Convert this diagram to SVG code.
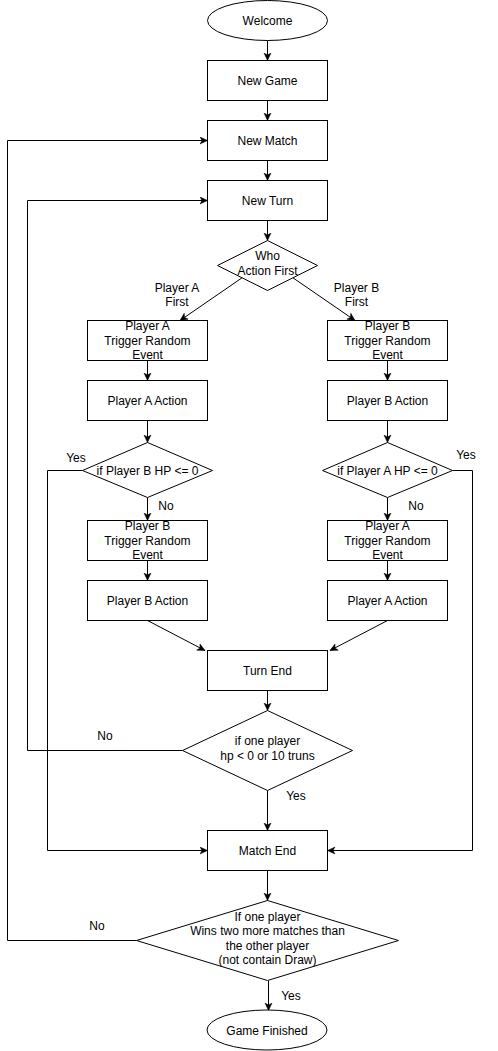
<svg xmlns="http://www.w3.org/2000/svg" width="498" height="1051" viewBox="0 0 498 1051">
<style>
.s{fill:#fff;stroke:#000;stroke-width:1}
.e{fill:none;stroke:#000;stroke-width:1}
text{font-family:"Liberation Sans",Arial,sans-serif;font-size:12px;fill:#000;text-anchor:middle}
</style>
<defs>
<marker id="a" markerWidth="10" markerHeight="10" refX="8" refY="4" orient="auto" markerUnits="userSpaceOnUse">
<path d="M0.5,0.5 L8,4 L0.5,7.5 L2.5,4 Z" fill="#000" stroke="#000" stroke-width="0.5"/>
</marker>
</defs>
<rect width="498" height="1051" fill="#fff"/>
<g id="connectors">
<path class="e" marker-end="url(#a)" d="M267.5,40.5 L267.5,60.5"/>
<path class="e" marker-end="url(#a)" d="M267.5,100.5 L267.5,120.5"/>
<path class="e" marker-end="url(#a)" d="M267.5,160.5 L267.5,180.5"/>
<path class="e" marker-end="url(#a)" d="M267.5,220.5 L267.5,240.5"/>
<path class="e" marker-end="url(#a)" d="M242.5,277.5 L180,320.5"/>
<path class="e" marker-end="url(#a)" d="M292.5,277.5 L355,320.5"/>
<path class="e" marker-end="url(#a)" d="M147.5,360.5 L147.5,380.5"/>
<path class="e" marker-end="url(#a)" d="M387.5,360.5 L387.5,380.5"/>
<path class="e" marker-end="url(#a)" d="M147.5,420.5 L147.5,442.5"/>
<path class="e" marker-end="url(#a)" d="M387.5,420.5 L387.5,442.5"/>
<path class="e" marker-end="url(#a)" d="M147.5,497.5 L147.5,520.5"/>
<path class="e" marker-end="url(#a)" d="M387.5,497.5 L387.5,520.5"/>
<path class="e" marker-end="url(#a)" d="M147.5,560.5 L147.5,580.5"/>
<path class="e" marker-end="url(#a)" d="M387.5,560.5 L387.5,580.5"/>
<path class="e" marker-end="url(#a)" d="M147.5,620.5 L205,650.5"/>
<path class="e" marker-end="url(#a)" d="M387.5,620.5 L330,650.5"/>
<path class="e" marker-end="url(#a)" d="M267.5,690.5 L267.5,710.5"/>
<path class="e" marker-end="url(#a)" d="M182.5,750.5 L27.5,750.5 L27.5,200.5 L207.5,200.5"/>
<path class="e" marker-end="url(#a)" d="M267.5,790.5 L267.5,830.5"/>
<path class="e" marker-end="url(#a)" d="M82.5,470.5 L47.5,470.5 L47.5,850.5 L207.5,850.5"/>
<path class="e" marker-end="url(#a)" d="M452.5,470.5 L472.5,470.5 L472.5,850.5 L327.5,850.5"/>
<path class="e" marker-end="url(#a)" d="M267.5,870.5 L267.5,900.5"/>
<path class="e" marker-end="url(#a)" d="M136.5,940.5 L7.5,940.5 L7.5,140.5 L207.5,140.5"/>
<path class="e" marker-end="url(#a)" d="M268.5,980.5 L268.5,1010.5"/>
<text x="177" y="292">Player A</text>
<text x="177" y="306">First</text>
<text x="356.5" y="292">Player B</text>
<text x="356.5" y="306">First</text>
<text x="76" y="462">Yes</text>
<text x="466" y="459">Yes</text>
<text x="166" y="510">No</text>
<text x="416" y="510">No</text>
<text x="105" y="740">No</text>
<text x="296" y="800">Yes</text>
<text x="97" y="930">No</text>
<text x="291" y="1000">Yes</text>
</g>
<g id="welcome"><ellipse class="s" cx="267.5" cy="20.5" rx="60" ry="20"/><text x="267.5" y="25">Welcome</text></g>
<g id="new-game"><rect class="s" x="207.5" y="60.5" width="120" height="40"/><text x="267.5" y="85">New Game</text></g>
<g id="new-match"><rect class="s" x="207.5" y="120.5" width="120" height="40"/><text x="267.5" y="145">New Match</text></g>
<g id="new-turn"><rect class="s" x="207.5" y="180.5" width="120" height="40"/><text x="267.5" y="205">New Turn</text></g>
<g id="who-first"><path class="s" d="M267.5,240.5 L317.5,265.5 L267.5,290.5 L217.5,265.5 Z"/><text x="267.5" y="260">Who</text><text x="267.5" y="275">Action First</text></g>
<g id="a-trigger1"><rect class="s" x="87.5" y="320.5" width="120" height="40"/><text x="147.5" y="330">Player A</text><text x="147.5" y="344.5">Trigger Random</text><text x="147.5" y="359">Event</text></g>
<g id="b-trigger1"><rect class="s" x="327.5" y="320.5" width="120" height="40"/><text x="387.5" y="330">Player B</text><text x="387.5" y="344.5">Trigger Random</text><text x="387.5" y="359">Event</text></g>
<g id="a-action1"><rect class="s" x="87.5" y="380.5" width="120" height="40"/><text x="147.5" y="405">Player A Action</text></g>
<g id="b-action1"><rect class="s" x="327.5" y="380.5" width="120" height="40"/><text x="387.5" y="405">Player B Action</text></g>
<g id="check-b"><path class="s" d="M147.5,442.5 L212.5,470.5 L147.5,497.5 L82.5,470.5 Z"/><text x="147.5" y="475">if Player B HP &lt;= 0</text></g>
<g id="check-a"><path class="s" d="M387.5,442.5 L452.5,470.5 L387.5,497.5 L322.5,470.5 Z"/><text x="387.5" y="475">if Player A HP &lt;= 0</text></g>
<g id="b-trigger2"><rect class="s" x="87.5" y="520.5" width="120" height="40"/><text x="147.5" y="530">Player B</text><text x="147.5" y="544.5">Trigger Random</text><text x="147.5" y="559">Event</text></g>
<g id="a-trigger2"><rect class="s" x="327.5" y="520.5" width="120" height="40"/><text x="387.5" y="530">Player A</text><text x="387.5" y="544.5">Trigger Random</text><text x="387.5" y="559">Event</text></g>
<g id="b-action2"><rect class="s" x="87.5" y="580.5" width="120" height="40"/><text x="147.5" y="605">Player B Action</text></g>
<g id="a-action2"><rect class="s" x="327.5" y="580.5" width="120" height="40"/><text x="387.5" y="605">Player A Action</text></g>
<g id="turn-end"><rect class="s" x="207.5" y="650.5" width="120" height="40"/><text x="267.5" y="675">Turn End</text></g>
<g id="check-turn"><path class="s" d="M267.5,710.5 L352.5,750.5 L267.5,790.5 L182.5,750.5 Z"/><text x="267.5" y="745">if one player</text><text x="267.5" y="760">hp &lt; 0 or 10 truns</text></g>
<g id="match-end"><rect class="s" x="207.5" y="830.5" width="120" height="40"/><text x="267.5" y="855">Match End</text></g>
<g id="check-match"><path class="s" d="M267.5,900.5 L398.5,940.5 L267.5,980.5 L136.5,940.5 Z"/><text x="267.5" y="921">If one player</text><text x="267.5" y="935">Wins two more matches than</text><text x="267.5" y="949.5">the other player</text><text x="267.5" y="964">(not contain Draw)</text></g>
<g id="game-finished"><ellipse class="s" cx="267" cy="1030" rx="60" ry="20"/><text x="267" y="1034.5">Game Finished</text></g>
</svg>
